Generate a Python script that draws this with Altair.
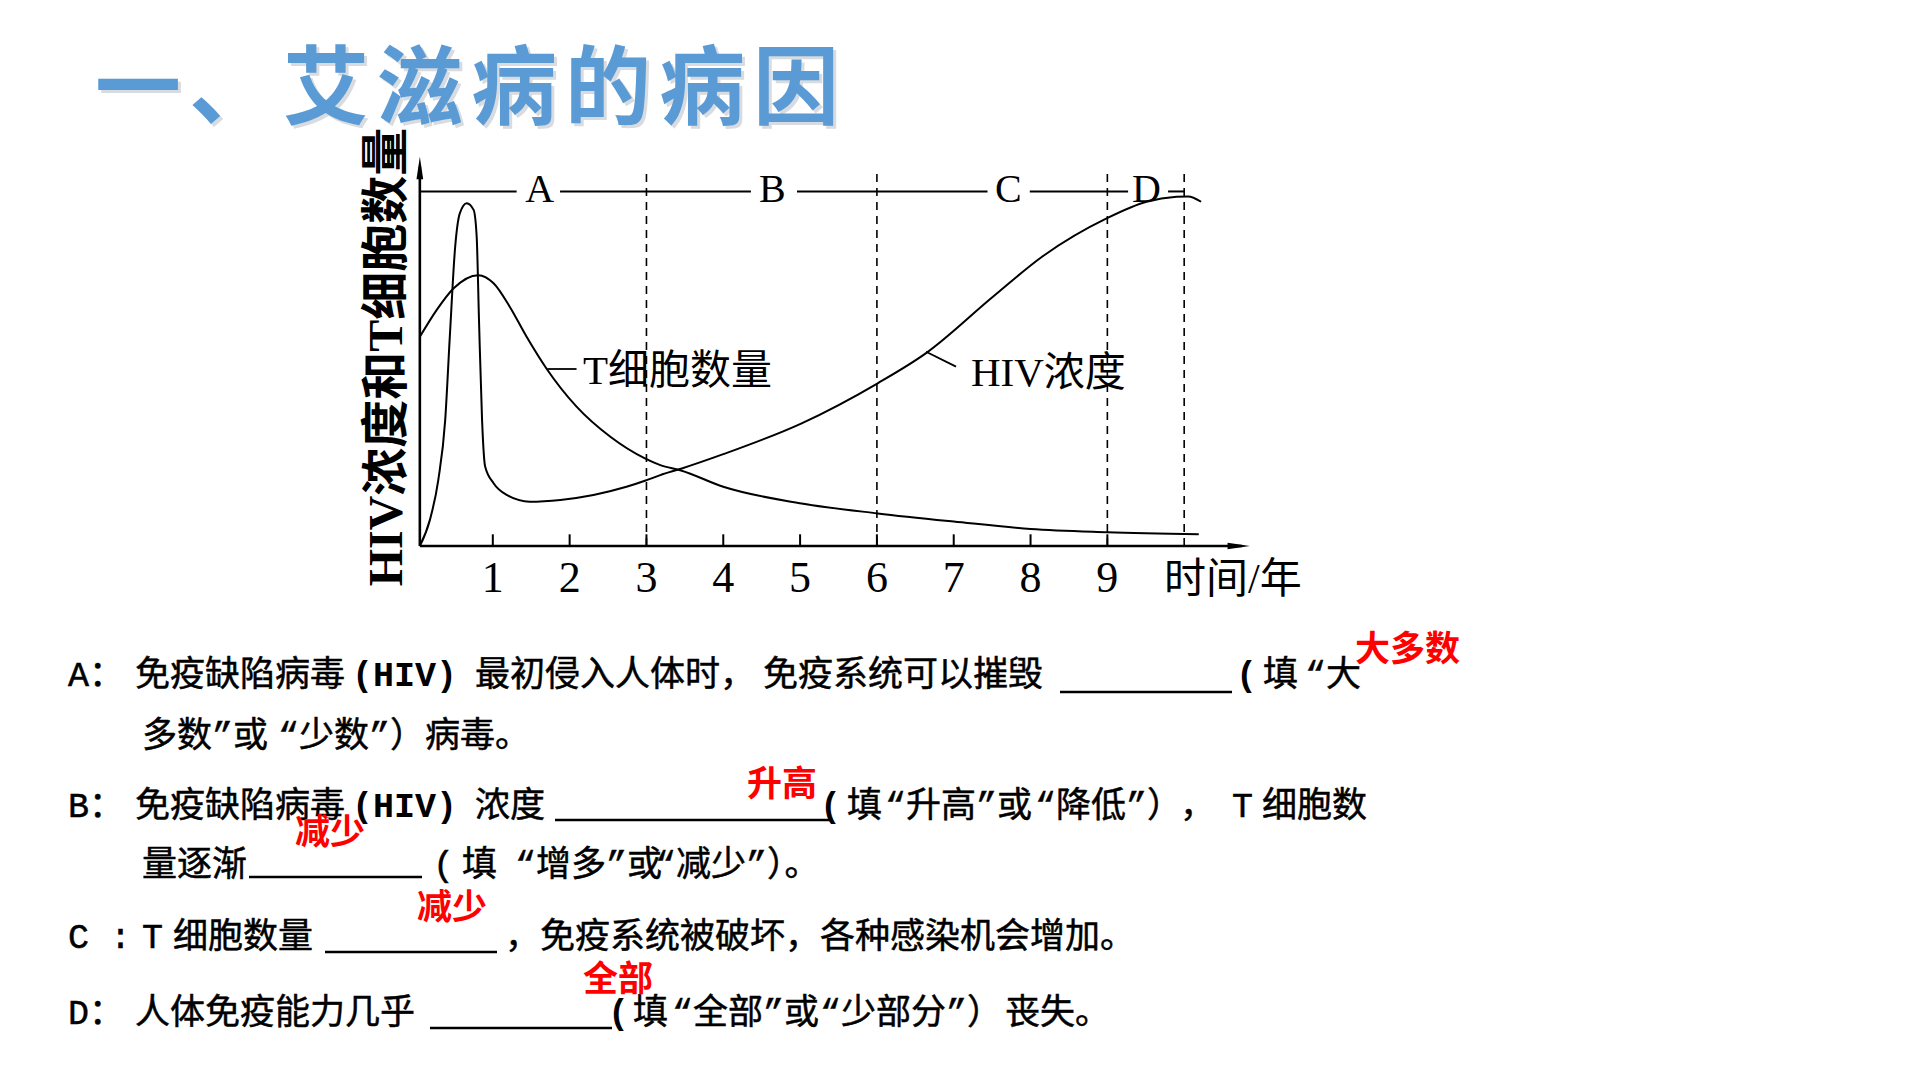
import altair as alt
import pandas as pd

# ---------------- data ----------------
hiv_x = [0.05, 0.18, 0.29, 0.38, 0.44, 0.51, 0.57, 0.66, 0.75, 0.79, 0.82, 0.86, 0.90, 1.01, 1.18,
         1.48, 1.88, 2.31, 2.74, 2.98, 3.18, 3.45, 4.0, 5.02, 6.01, 6.64, 7.51, 8.15, 8.99, 9.51,
         9.9, 10.05, 10.22]
hiv_y = [0, 7.3, 18.6, 35.5, 59, 84.4, 93.8, 96.7, 94.8, 87.2, 63.8, 35.5, 22.4, 17.7, 14.4,
         12.5, 13.0, 14.4, 16.7, 18.4, 20.0, 21.8, 25.9, 34.6, 45.9, 54.4, 70.3, 81.6, 92.4, 97.1,
         98.5, 98.6, 97.1]
t_x = [0.05, 0.27, 0.49, 0.81, 1.01, 1.22, 1.44, 1.70, 2.09, 2.53, 2.98, 3.18, 3.45, 4.0, 5.02,
       6.01, 7.0, 8.0, 9.0, 10.19]
t_y = [59.0, 66.6, 72.7, 76.4, 74.1, 67.5, 59.0, 50.0, 39.3, 30.8, 24.7, 22.8, 21.3, 16.7, 12.0,
       9.2, 6.9, 4.8, 3.9, 3.3]

tick_years = [1, 2, 3, 4, 5, 6, 7, 8, 9]
tick_labels = ["1", "2", "3", "4", "5", "6", "7", "8", "9"]
stage_bounds = [3, 6, 9, 10]
stage_letters = ["A", "B", "C", "D"]
stage_letter_x = [1.61, 4.64, 7.71, 9.51]
bar_start = [0.05, 1.875, 4.96, 7.99, 9.79]
bar_end = [1.31, 4.36, 7.44, 9.27, 10.0]

title_chars = list("一、艾滋病的病因")

# ---------------- layout helpers ----------------
W, H = 845, 390
X0, Y0 = 416, 546          # page position of the data origin
XMAX, YMAX = 11, 110
PAD = {"left": X0, "top": Y0 - H, "right": 1920 - X0 - W, "bottom": 1080 - Y0}


def dx(px):
    return (px - X0) / (W / XMAX)


def dy(py):
    return (Y0 - py) / (H / YMAX)


xs = alt.Scale(domain=[0, XMAX], nice=False, zero=False)
ys = alt.Scale(domain=[0, YMAX], nice=False, zero=False)


def X(f):
    return alt.X(f, type="quantitative", scale=xs, axis=None)


def Y(f):
    return alt.Y(f, type="quantitative", scale=ys, axis=None)


SERIF = "Liberation Serif, Noto Sans CJK SC"
MONO = "Liberation Mono, Noto Sans CJK SC"
CJK = "Noto Sans CJK SC"

# ---------------- chart marks ----------------
curves = pd.DataFrame({
    "x": hiv_x + t_x,
    "y": hiv_y + t_y,
    "s": ["HIV"] * len(hiv_x) + ["T"] * len(t_x),
})
lines = alt.Chart(curves).mark_line(interpolate="monotone", color="black", strokeWidth=2).encode(
    x=X("x"), y=Y("y"), detail="s:N")

dash = alt.Chart(pd.DataFrame({"x": stage_bounds, "y": [0] * 4, "y2": [105] * 4})).mark_rule(
    color="black", strokeWidth=1.6, strokeDash=[8, 6]).encode(x=X("x"), y=Y("y"), y2="y2")

top_bar = alt.Chart(pd.DataFrame({"x": bar_start, "x2": bar_end, "y": [100] * 5})).mark_rule(
    color="black", strokeWidth=2).encode(x=X("x"), x2="x2", y=Y("y"))

axes_df = pd.DataFrame({"x": [0.05, 0.05], "x2": [10.75, 0.05], "y": [0, 0], "y2": [0, 107]})
axes = alt.Chart(axes_df).mark_rule(color="black", strokeWidth=2.6).encode(
    x=X("x"), x2="x2", y=Y("y"), y2="y2")

ticks = alt.Chart(pd.DataFrame({"x": tick_years, "y": [0] * 9, "y2": [3.3] * 9})).mark_rule(
    color="black", strokeWidth=2).encode(x=X("x"), y=Y("y"), y2="y2")

arrow_up = alt.Chart(pd.DataFrame({"x": [0.05], "y": [106.6]})).mark_point(
    shape="M -0.3 1 L 0 -1 L 0.3 1 Z", filled=True, size=500, color="black", opacity=1).encode(
    x=X("x"), y=Y("y"))
arrow_right = alt.Chart(pd.DataFrame({"x": [10.71], "y": [0]})).mark_point(
    shape="M -1 -0.3 L 1 0 L -1 0.3 Z", filled=True, size=500, color="black", opacity=1).encode(
    x=X("x"), y=Y("y"))

leaders = alt.Chart(pd.DataFrame({"x": [1.71, 6.64], "x2": [2.09, 7.03],
                                  "y": [dy(369), 54.8], "y2": [dy(369), 50.6]})).mark_rule(
    color="black", strokeWidth=1.8).encode(x=X("x"), x2="x2", y=Y("y"), y2="y2")

# ---------------- chart texts ----------------
tick_txt = alt.Chart(pd.DataFrame({"x": tick_years, "y": [dy(579)] * 9, "t": tick_labels})).mark_text(
    font=SERIF, fontSize=44, align="center", baseline="middle", color="black").encode(
    x=X("x"), y=Y("y"), text="t:N")

letter_txt = alt.Chart(pd.DataFrame({"x": stage_letter_x, "y": [100.3] * 4, "t": stage_letters})).mark_text(
    font=SERIF, fontSize=40, align="center", baseline="middle", color="black").encode(
    x=X("x"), y=Y("y"), text="t:N")

chart_labels = pd.DataFrame({
    "x": [dx(583), dx(971), dx(1164)],
    "y": [dy(372), dy(374), dy(580)],
    "t": ["T细胞数量", "HIV浓度", "时间/年"],
    "s": [41, 41, 42],
})
label_txt = alt.Chart(chart_labels).mark_text(
    font=SERIF, align="left", baseline="middle", color="black").encode(
    x=X("x"), y=Y("y"), text="t:N", size=alt.Size("s:Q", scale=None))

ytitle = alt.Chart(pd.DataFrame({"x": [dx(388)], "y": [dy(357)], "t": ["HIV浓度和T细胞数量"]})).mark_text(
    font=SERIF, fontSize=48, fontWeight="bold", angle=270, align="center", baseline="middle",
    color="black").encode(x=X("x"), y=Y("y"), text="t:N")

# ---------------- slide title ----------------
title_df = pd.DataFrame({
    "x": [dx(138 + 94 * i) for i in range(len(title_chars))],
    "y": [dy(92)] * len(title_chars),
    "t": title_chars,
})
title_shadow = alt.Chart(title_df).mark_text(
    font=CJK, fontSize=86, fontWeight="bold", align="center", baseline="middle",
    color="#7f8c99", opacity=0.3, dx=3, dy=3).encode(x=X("x"), y=Y("y"), text="t:N")
title_txt = alt.Chart(title_df).mark_text(
    font=CJK, fontSize=86, fontWeight="bold", align="center", baseline="middle",
    color="#5B9BD5").encode(x=X("x"), y=Y("y"), text="t:N")

# ---------------- question text ----------------
# (text, left x, visual centre y) in page pixels
plain = [
    ("A：", 68, 672), ("免疫缺陷病毒", 135, 672), ("最初侵入人体时，", 475, 672),
    ("免疫系统可以摧毁", 763, 672), ("填", 1263, 672), ("“大", 1305, 672),
    ("多数”或", 142, 733), ("“少数”）", 278, 733), ("病毒。", 425, 733),
    ("B：", 68, 803), ("免疫缺陷病毒", 135, 803), ("浓度", 475, 803), ("填", 847, 803),
    ("“升高”或", 885, 803), ("“降低”）", 1035, 803), ("，", 1180, 803), ("T", 1232, 803),
    ("细胞数", 1262, 803),
    ("量逐渐", 142, 862), ("(", 433, 862), ("填", 462, 862), ("“增多”或", 515, 862),
    ("“减少”）。", 655, 862),
    ("C :", 68, 934), ("T", 142, 934), ("细胞数量", 173, 934),
    ("，免疫系统被破坏，各种感染机会增加。", 505, 934),
    ("D：", 68, 1010), ("人体免疫能力几乎", 135, 1010), ("填", 633, 1010),
    ("“全部”或", 672, 1010), ("“少部分”）", 820, 1010), ("丧失。", 1005, 1010),
]
bold = [
    ("(HIV)", 352, 672), ("(", 1236, 672), ("(HIV)", 352, 803), ("(", 820, 803), ("(", 608, 1010),
]
answers = [
    ("大多数", 1355, 647), ("升高", 747, 782), ("减少", 295, 830), ("减少", 417, 905), ("全部", 583, 977),
]
blanks = [(1060, 1232, 692), (555, 833, 820), (249, 422, 877), (325, 497, 952), (430, 612, 1028)]


def seg_df(rows):
    return pd.DataFrame({"x": [dx(r[1]) for r in rows], "y": [dy(r[2] + 3) for r in rows],
                         "t": [r[0] for r in rows]})


plain_txt = alt.Chart(seg_df(plain)).mark_text(
    font=MONO, fontSize=35, align="left", baseline="middle", color="black",
    stroke="black", strokeWidth=0.5).encode(
    x=X("x"), y=Y("y"), text="t:N")
bold_txt = alt.Chart(seg_df(bold)).mark_text(
    font=MONO, fontSize=35, fontWeight="bold", align="left", baseline="middle", color="black").encode(
    x=X("x"), y=Y("y"), text="t:N")
ans_txt = alt.Chart(seg_df(answers)).mark_text(
    font=CJK, fontSize=35, fontWeight="bold", align="left", baseline="middle", color="#FF0000").encode(
    x=X("x"), y=Y("y"), text="t:N")
blank_df = pd.DataFrame({"x": [dx(b[0]) for b in blanks], "x2": [dx(b[1]) for b in blanks],
                         "y": [dy(b[2]) for b in blanks]})
blank_rules = alt.Chart(blank_df).mark_rule(color="black", strokeWidth=2.5).encode(
    x=X("x"), x2="x2", y=Y("y"))

chart = alt.layer(
    dash, top_bar, ticks, axes, arrow_up, arrow_right, lines, leaders,
    tick_txt, letter_txt, label_txt, ytitle,
    title_shadow, title_txt,
    blank_rules, plain_txt, bold_txt, ans_txt,
).properties(
    width=W, height=H,
    autosize=alt.AutoSizeParams(type="none"),
    padding=PAD,
    background="white",
).configure_view(strokeWidth=0)

chart.save("out.html", embed_options={"renderer": "svg", "actions": False})
